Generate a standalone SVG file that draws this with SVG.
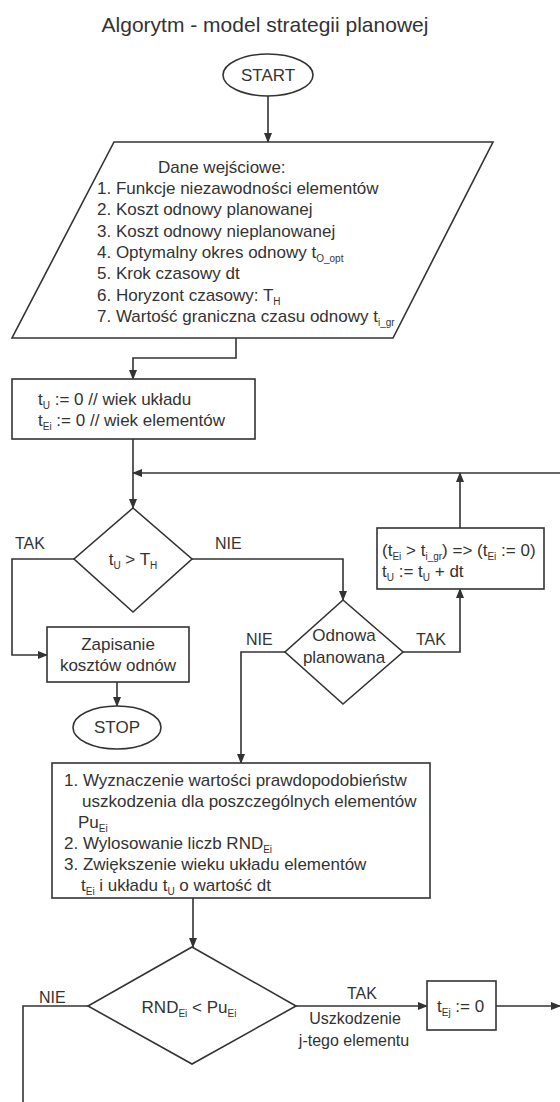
<svg xmlns="http://www.w3.org/2000/svg" width="560" height="1102" viewBox="0 0 560 1102">
<style>
text{font-family:"Liberation Sans",Arial,sans-serif;fill:#333;font-size:17px}
.t{font-size:21px}
.lb{font-size:16px}
.s{font-size:10px}
.c{text-anchor:middle}
.n{fill:#fff;stroke:#333;stroke-width:1.6}
.e path{fill:none;stroke:#333;stroke-width:1.6}
</style>
<defs>
<marker id="a" markerWidth="10" markerHeight="8" refX="9" refY="4" orient="auto" markerUnits="userSpaceOnUse">
<path d="M0,0 L10,4 L0,8 Z" fill="#333"/>
</marker>
</defs>
<rect width="560" height="1102" fill="#fff"/>
<text class="t c" x="265" y="32">Algorytm - model strategii planowej</text>

<g id="edges" class="e">
<path d="M268,96 V142" marker-end="url(#a)"/>
<path d="M236,338 V358 H133 V379" marker-end="url(#a)"/>
<path d="M133,439 V508" marker-end="url(#a)"/>
<path d="M560,473 H133" marker-end="url(#a)"/>
<path d="M74,559 H12 V655 H47" marker-end="url(#a)"/>
<path d="M192,559 H343 V600" marker-end="url(#a)"/>
<path d="M117,682 V706" marker-end="url(#a)"/>
<path d="M285,652 H241 V763" marker-end="url(#a)"/>
<path d="M403,652 H460 V589" marker-end="url(#a)"/>
<path d="M460,528 V473" marker-end="url(#a)"/>
<path d="M193,898 V947" marker-end="url(#a)"/>
<path d="M88,1006 H23 V1102"/>
<path d="M296,1006 H427" marker-end="url(#a)"/>
<path d="M496,1006 H560" marker-end="url(#a)"/>
</g>

<g id="start">
<ellipse class="n" cx="268" cy="75" rx="45" ry="21"/>
<text class="c" x="268" y="81">START</text>
</g>

<g id="input">
<polygon class="n" points="114,142 493,142 393,338 12,338"/>
<text x="158" y="173">Dane wejściowe:</text>
<text x="97" y="194">1. Funkcje niezawodności elementów</text>
<text x="97" y="215">2. Koszt odnowy planowanej</text>
<text x="97" y="237">3. Koszt odnowy nieplanowanej</text>
<text x="97" y="258">4. Optymalny okres odnowy t<tspan class="s" dy="4">O_opt</tspan></text>
<text x="97" y="279">5. Krok czasowy dt</text>
<text x="97" y="301">6. Horyzont czasowy: T<tspan class="s" dy="4">H</tspan></text>
<text x="97" y="322">7. Wartość graniczna czasu odnowy t<tspan class="s" dy="4">i_gr</tspan></text>
</g>

<g id="init">
<rect class="n" x="12" y="379" width="243" height="60"/>
<text x="38" y="405">t<tspan class="s" dy="4">U</tspan><tspan dy="-4"> := 0 // wiek układu</tspan></text>
<text x="38" y="426">t<tspan class="s" dy="4">Ei</tspan><tspan dy="-4"> := 0 // wiek elementów</tspan></text>
</g>

<g id="cond1">
<polygon class="n" points="133,508 192,559 133,612 74,559"/>
<text class="c" x="133" y="565">t<tspan class="s" dy="4">U</tspan><tspan dy="-4"> &gt; T</tspan><tspan class="s" dy="4">H</tspan></text>
</g>
<text class="lb" x="15" y="549">TAK</text>
<text class="lb" x="215" y="549">NIE</text>

<g id="save">
<rect class="n" x="47" y="627" width="142" height="55"/>
<text class="c" x="118" y="650">Zapisanie</text>
<text class="c" x="118" y="671">kosztów odnów</text>
</g>

<g id="stop">
<ellipse class="n" cx="117" cy="727.5" rx="44" ry="21.5"/>
<text class="c" x="117" y="733">STOP</text>
</g>

<g id="cond2">
<polygon class="n" points="343,600 403,652 343,704 285,652"/>
<text class="c" x="344" y="641">Odnowa</text>
<text class="c" x="344" y="663">planowana</text>
</g>
<text class="lb" x="246" y="645">NIE</text>
<text class="lb" x="416" y="645">TAK</text>

<g id="reset">
<rect class="n" x="377" y="528" width="167" height="61"/>
<text x="382" y="556">(t<tspan class="s" dy="4">Ei</tspan><tspan dy="-4"> &gt; t</tspan><tspan class="s" dy="4">i_gr</tspan><tspan dy="-4">) =&gt; (t</tspan><tspan class="s" dy="4">Ei</tspan><tspan dy="-4"> := 0)</tspan></text>
<text x="382" y="577">t<tspan class="s" dy="4">U</tspan><tspan dy="-4"> := t</tspan><tspan class="s" dy="4">U</tspan><tspan dy="-4"> + dt</tspan></text>
</g>

<g id="calc">
<rect class="n" x="52" y="763" width="378" height="135"/>
<text x="64" y="786">1. Wyznaczenie wartości prawdopodobieństw</text>
<text x="82" y="807">uszkodzenia dla poszczególnych elementów</text>
<text x="78" y="828">Pu<tspan class="s" dy="4">Ei</tspan></text>
<text x="64" y="849">2. Wylosowanie liczb RND<tspan class="s" dy="4">Ei</tspan></text>
<text x="64" y="870">3. Zwiększenie wieku układu elementów</text>
<text x="81" y="891">t<tspan class="s" dy="4">Ei</tspan><tspan dy="-4"> i układu t</tspan><tspan class="s" dy="4">U</tspan><tspan dy="-4"> o wartość dt</tspan></text>
</g>

<g id="cond3">
<polygon class="n" points="192,947 296,1006 192,1064 88,1006"/>
<text class="c" x="189" y="1013">RND<tspan class="s" dy="4">Ei</tspan><tspan dy="-4"> &lt; Pu</tspan><tspan class="s" dy="4">Ei</tspan></text>
</g>
<text class="lb" x="39" y="1003">NIE</text>
<text class="lb c" x="362" y="999">TAK</text>
<text class="lb c" x="355" y="1024">Uszkodzenie</text>
<text class="lb c" x="354" y="1046">j-tego elementu</text>

<g id="fail">
<rect class="n" x="427" y="981" width="69" height="49"/>
<text x="437" y="1012">t<tspan class="s" dy="4">Ej</tspan><tspan dy="-4"> := 0</tspan></text>
</g>
</svg>
